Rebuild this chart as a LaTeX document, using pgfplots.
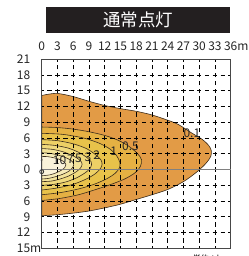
\documentclass[border=0pt]{standalone}
\usepackage{pgfplots}
\pgfplotsset{compat=1.18}
\usetikzlibrary{arrows.meta}
\usepackage{fontspec}
\setmainfont{Noto Sans CJK JP}
\definecolor{c01}{HTML}{E29B46}
\definecolor{c05}{HTML}{E5B143}
\definecolor{c1}{HTML}{E8C24A}
\definecolor{c2}{HTML}{EDD065}
\definecolor{c3}{HTML}{F0DA7E}
\definecolor{c5}{HTML}{F3E39A}
\definecolor{c7}{HTML}{F6EBB8}
\definecolor{c10}{HTML}{FAF3DA}
\definecolor{cl}{HTML}{3B2C1C}
\definecolor{titlebg}{HTML}{231F20}
\begin{document}
\begin{tikzpicture}
\useasboundingbox (0pt,0pt) rectangle (248pt,256pt);
\fill[titlebg] (46pt,223pt) rectangle (230pt,249pt);
\node[white, font=\fontsize{17.5}{17.5}\selectfont] at (138pt,236pt) {通常点灯};
\begin{axis}[
  at={(41.7pt,7.7pt)}, anchor=south west,
  width=189pt, height=189pt, scale only axis,
  xmin=0, xmax=36, ymin=-15, ymax=21,
  clip=false,
  axis on top,
  xtick={0,3,...,36},
  xticklabels={0,3,6,9,12,15,18,21,24,27,30,33,36\rlap{m}},
  ytick={-15,-12,-9,-6,-3,3,6,9,12,15,18,21},
  yticklabels={15\rlap{m},12,9,6,3,3,6,9,12,15,18,21},
  extra y ticks={0}, extra y tick labels={0},
  extra y tick style={grid=major, major grid style={solid, color=black!50, line width=0.9pt}},
  xticklabel pos=upper,
  grid=major,
  major grid style={black, line width=0.65pt, dash pattern=on 4.5pt off 3.375pt, dash phase=2.25pt},
  major tick length=0pt,
  axis line style={draw=black!72, line width=1.3pt},
  tick label style={font=\fontsize{12}{12}\selectfont, text=black!85},
  xticklabel style={yshift=5pt},
  yticklabel style={xshift=-8pt},
]
\addplot[draw=cl, line width=0.6pt, fill=c01, smooth, tension=0.5] coordinates {
(0,-8.8) (3,-8.6) (6,-8.3) (9,-7.9) (12,-7.3) (15,-6.6) (18,-5.7) (21,-4.8) (24,-3.8) (27,-2.3) (29.5,-0.5) (31.3,1.2) (32.2,2.5) (32.3,3.6) (31.8,4.6) (30.5,5.8) (28.5,7.0) (26,8.6) (24,9.4) (21,10.4) (18,11.1) (15,11.6) (12,12.2) (9,13.0) (6,13.9) (3,14.5) (1,14.3) (0,14.1)
} -- cycle;
\addplot[draw=cl, line width=0.6pt, fill=c05, smooth, tension=0.5] coordinates {
(0,8.1) (3,8.0) (6,7.7) (9,7.2) (12,6.5) (14.5,5.6) (16.5,4.5) (18.2,3.1) (19,1.9) (18.8,0.6) (17.8,-0.6) (15.8,-1.8) (13,-2.9) (10,-3.9) (7,-4.8) (3.5,-5.5) (0,-5.9)
} -- cycle;
\addplot[draw=cl, line width=0.6pt, fill=c1, smooth, tension=0.5] coordinates {
(0,6.9) (4,6.7) (8,6.0) (11,5.0) (13,3.9) (14.3,2.6) (14.9,1.3) (14.8,0.3) (14,-0.7) (12.5,-1.7) (10,-2.8) (7,-3.7) (3.5,-4.4) (0,-4.8)
} -- cycle;
\addplot[draw=cl, line width=0.6pt, fill=c2, smooth, tension=0.5] coordinates {
(0,5.7) (3,5.5) (6,4.9) (8.5,4.0) (10.3,2.8) (11.3,1.8) (11.5,1.0) (11.2,0.2) (10.2,-0.8) (8.5,-1.8) (6,-2.8) (3,-3.5) (0,-3.9)
} -- cycle;
\addplot[draw=cl, line width=0.6pt, fill=c3, smooth, tension=0.5] coordinates {
(0,4.8) (2.5,4.6) (5,4.1) (7,3.3) (8.6,2.3) (9.4,1.5) (9.5,1.0) (9.2,0.2) (8.3,-0.6) (6.8,-1.5) (4.8,-2.3) (2.5,-2.8) (0,-3.0)
} -- cycle;
\addplot[draw=cl, line width=0.6pt, fill=c5, smooth, tension=0.5] coordinates {
(0,4.0) (2,3.85) (4,3.4) (5.8,2.7) (7,2.0) (7.6,1.4) (7.7,1.0) (7.4,0.3) (6.6,-0.4) (5.2,-1.2) (3.5,-1.8) (1.8,-2.2) (0,-2.3)
} -- cycle;
\addplot[draw=cl, line width=0.6pt, fill=c7, smooth, tension=0.5] coordinates {
(0,3.2) (1.5,3.1) (3,2.8) (4.5,2.3) (5.5,1.8) (6.0,1.3) (6.1,1.0) (5.9,0.4) (5.2,-0.3) (4.0,-0.9) (2.5,-1.4) (1.2,-1.7) (0,-1.8)
} -- cycle;
\addplot[draw=cl, line width=0.6pt, fill=c10, smooth, tension=0.5] coordinates {
(0,2.5) (1.2,2.45) (2.5,2.2) (3.5,1.9) (4.2,1.5) (4.55,1.1) (4.6,0.9) (4.4,0.4) (3.8,-0.1) (2.8,-0.6) (1.6,-1.0) (0,-1.2)
} -- cycle;
% lamp icon
\addplot[draw=black!80, line width=0.8pt, -{Stealth[length=2.5pt]}] coordinates {(0,0.2) (0,2.2)};
\addplot[only marks, mark=o, mark size=2pt, mark options={draw=black!80, fill=white, line width=0.8pt}] coordinates {(0,-0.4)};
% contour labels
\begin{scope}[every node/.style={font=\fontsize{12}{12}\selectfont, text=black!85, inner sep=0pt}]
\node at (axis cs:3.4,1.7) {10};
\node at (axis cs:5.5,1.9) {7};
\node at (axis cs:7.0,2.1) {5};
\node at (axis cs:8.8,2.4) {3};
\node at (axis cs:10.5,2.8) {2};
\node at (axis cs:13.7,3.5) {1};
\node at (axis cs:16.9,4.5) {0.5};
\node at (axis cs:28.6,7.0) {0.1};
\end{scope}
\end{axis}
\node[anchor=north, font=\fontsize{8}{8}\selectfont] at (208pt,5pt) {単位：lx};
\end{tikzpicture}
\end{document}
